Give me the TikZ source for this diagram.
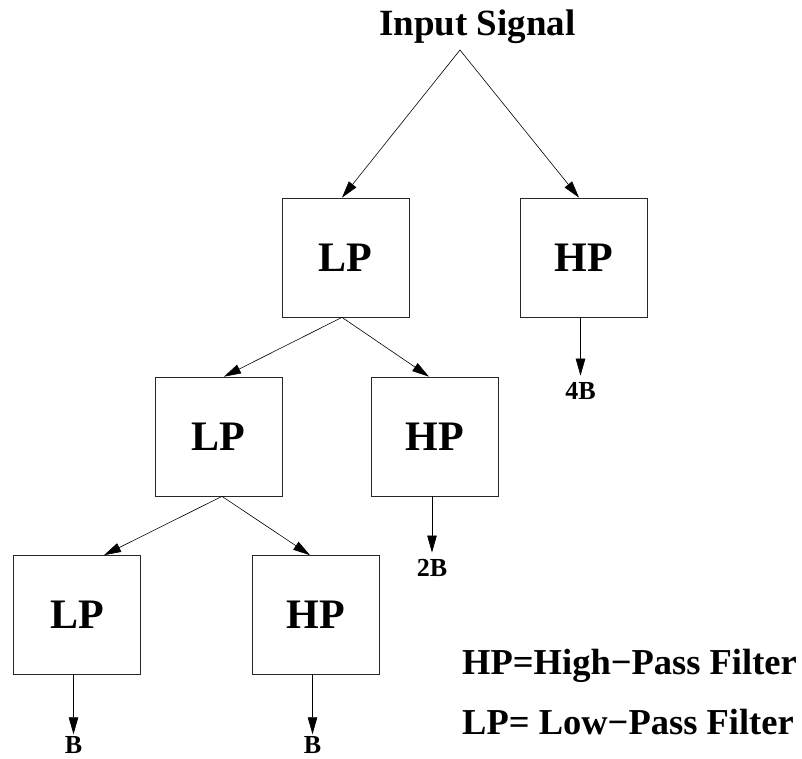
\documentclass[tikz,border=0pt]{standalone}
\usepackage{fontspec}
\setmainfont{Liberation Serif}
\usetikzlibrary{arrows.meta}
\begin{document}
\begin{tikzpicture}[x=1pt,y=-1pt,
  box/.style={draw=black!85, line width=0.7pt, minimum width=127pt, minimum height=119pt, inner sep=0pt, font=\fontsize{42}{42}\selectfont\bfseries},
  arr/.style={-{Triangle[length=17pt,width=9.5pt]}, line width=0.6pt},
  lbl/.style={font=\fontsize{26}{26}\selectfont\bfseries, inner xsep=0pt, inner ysep=6pt, anchor=base},
  lblb/.style={lbl, inner ysep=1.5pt},
  txt/.style={font=\fontsize{36.5}{36.5}\selectfont\bfseries, inner sep=0pt, anchor=base west}]
\fill[white] (0,0) rectangle (802,758);
\useasboundingbox (0,0) rectangle (802,758);

\node[font=\fontsize{37}{37}\selectfont\bfseries, inner sep=0pt, anchor=base] (title) at (477.5,35) {Input Signal};
\coordinate (apex) at (460,50);

\node[box] (LP1) at (345.5,257.5) {LP};
\node[box] (HP1) at (583.5,257.5) {HP};
\node[box] (LP2) at (218.5,436.5) {LP};
\node[box] (HP2) at (435,436.5) {HP};
\node[box] (LP3) at (77,615) {LP};
\node[box] (HP3) at (315.5,615) {HP};

\node[lbl] (o4) at (580.5,399) {4B};
\node[lbl] (o2) at (432,576) {2B};
\node[lblb] (o1a) at (73.5,753) {B};
\node[lblb] (o1b) at (312.5,753) {B};

\node[txt] (leg1) at (462,674) {HP=High−Pass Filter};
\node[txt] (leg2) at (462,734) {LP= Low−Pass Filter};

\draw[arr] (apex) -- ([xshift=-3.5pt]LP1.north);
\draw[arr] (apex) -- ([xshift=-4.5pt]HP1.north);
\draw[arr] ([xshift=-3.5pt]LP1.south) -- ([xshift=5.5pt]LP2.north);
\draw[arr] ([xshift=-3.5pt]LP1.south) -- ([xshift=-6pt]HP2.north);
\draw[arr] ([xshift=3.5pt]LP2.south) -- ([xshift=27pt]LP3.north);
\draw[arr] ([xshift=3.5pt]LP2.south) -- ([xshift=-5.5pt]HP3.north);
\draw[arr] (HP1.south -| o4) -- (o4.north);
\draw[arr] (HP2.south -| o2) -- (o2.north);
\draw[arr] (LP3.south -| o1a) -- (o1a.north);
\draw[arr] (HP3.south -| o1b) -- (o1b.north);
\end{tikzpicture}
\end{document}
